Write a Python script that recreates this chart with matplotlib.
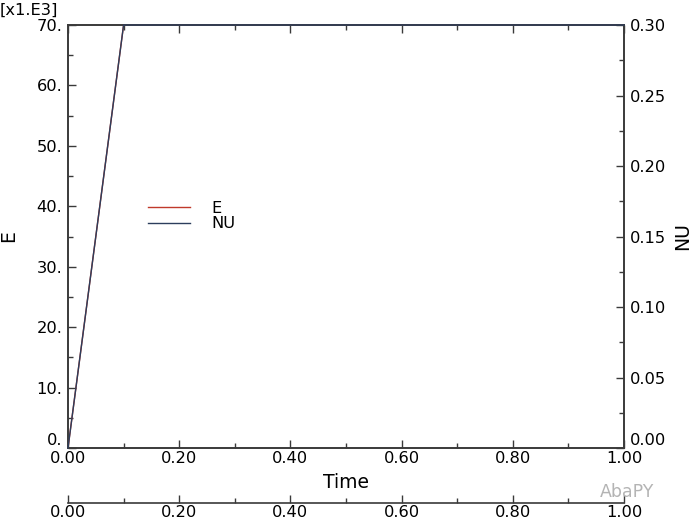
import matplotlib
matplotlib.use("Agg")
import matplotlib.pyplot as plt
from matplotlib.ticker import FuncFormatter, MultipleLocator

# amplitude curves (time, E, NU)
time = [0.0, 0.1, 1.0]
e_vals = [0.0, 70000.0, 70000.0]
nu_vals = [0.0, 0.3, 0.3]

e_ticks = [0, 10000, 20000, 30000, 40000, 50000, 60000, 70000]
nu_ticks = [0.0, 0.05, 0.10, 0.15, 0.20, 0.25, 0.30]

W, H = 692, 522
L, R, T, B = 68, 624, 25, 448
AX2_Y = 503

plt.rcParams["font.family"] = ["DejaVu Sans"]
fig = plt.figure(figsize=(W / 100, H / 100), dpi=100)
fig.patch.set_facecolor("white")

spine_col = "#3a3a3a"
fs = 11.7

ax = fig.add_axes([L / W, (H - B) / H, (R - L) / W, (B - T) / H])
ax.plot(time, e_vals, color="#c0392b", lw=1.0, label="E", zorder=3, clip_on=False)
ax.set_xlim(0, 1.0)
ax.set_ylim(0, 70000)
ax.xaxis.set_major_locator(MultipleLocator(0.2))
ax.xaxis.set_minor_locator(MultipleLocator(0.1))
ax.set_yticks(e_ticks)
ax.yaxis.set_minor_locator(MultipleLocator(5000))
ax.xaxis.set_major_formatter(FuncFormatter(lambda v, p: f"{v:.2f}"))
ax.yaxis.set_major_formatter(FuncFormatter(lambda v, p: f"{v / 1000:.0f}."))
ax.tick_params(axis="both", which="both", direction="in", top=True, colors=spine_col,
               labelcolor="black", labelsize=fs, width=1.0)
ax.tick_params(axis="both", which="major", length=6)
ax.tick_params(axis="both", which="minor", length=3.5)
ax.tick_params(axis="x", pad=2)
ax.tick_params(axis="y", pad=4)
for s in ax.spines.values():
    s.set_color(spine_col)
    s.set_linewidth(1.2)
ax.set_xlabel("Time", fontsize=13.5)
ax.xaxis.set_label_coords(0.5, -(482 - B) / (B - T), transform=ax.transAxes)
ax.xaxis.label.set_va("center")
ax.set_ylabel("E", fontsize=13.5)
ax.yaxis.set_label_coords(-(L - 9) / (R - L), 0.5)
ax.yaxis.label.set_va("center")

ax2 = ax.twinx()
ax2.plot(time, nu_vals, color="#2c3e5c", lw=1.0, label="NU", zorder=4, clip_on=False)
ax2.set_ylim(0, 0.30)
ax2.set_yticks(nu_ticks)
ax2.yaxis.set_minor_locator(MultipleLocator(0.025))
ax2.yaxis.set_major_formatter(FuncFormatter(lambda v, p: f"{v:.2f}"))
ax2.tick_params(axis="y", which="both", direction="in", colors=spine_col,
                labelcolor="black", labelsize=fs, width=1.0, pad=4)
ax2.tick_params(axis="y", which="major", length=6)
ax2.tick_params(axis="y", which="minor", length=3.5)
for s in ax2.spines.values():
    s.set_color(spine_col)
    s.set_linewidth(1.2)
ax2.set_ylabel("NU", fontsize=13.5)
ax2.yaxis.set_label_coords(1 + (683 - R) / (R - L), 0.5)
ax2.yaxis.label.set_va("center")

# second time axis below
ax3 = fig.add_axes([L / W, (H - AX2_Y) / H, (R - L) / W, 1e-4])
ax3.set_xlim(0, 1.0)
ax3.set_yticks([])
ax3.xaxis.set_major_locator(MultipleLocator(0.2))
ax3.xaxis.set_minor_locator(MultipleLocator(0.1))
ax3.xaxis.set_major_formatter(FuncFormatter(lambda v, p: f"{v:.2f}"))
ax3.tick_params(axis="x", which="both", direction="in", colors=spine_col,
                labelcolor="black", labelsize=fs, width=1.0, pad=1.5)
ax3.tick_params(axis="x", which="major", length=6)
ax3.tick_params(axis="x", which="minor", length=3.5)
for k in ("top", "left", "right"):
    ax3.spines[k].set_visible(False)
ax3.spines["bottom"].set_color(spine_col)
ax3.spines["bottom"].set_linewidth(1.2)
ax3.patch.set_alpha(0)

# legend
h1, l1 = ax.get_legend_handles_labels()
h2, l2 = ax2.get_legend_handles_labels()
ax.legend(h1 + h2, l1 + l2, loc="upper left",
          bbox_to_anchor=((133 - L) / (R - L), (B - 186) / (B - T)),
          frameon=False, fontsize=fs, handlelength=2.6, handletextpad=1.3, labelspacing=0.05)

fig.text(0, 1 - 10 / H, "[x1.E3]", fontsize=fs, ha="left", va="center")
fig.text(600 / W, 1 - 492 / H, "AbaPY", fontsize=12.5, color="#b4b4b4", ha="left", va="center")

# lowest y labels sit above the axis line, as in the reference
fig.canvas.draw()
ax.yaxis.get_major_ticks()[0].label1.set_va("bottom")
ax2.yaxis.get_major_ticks()[0].label2.set_va("bottom")

fig.savefig("out.png", dpi=100, facecolor="white")
